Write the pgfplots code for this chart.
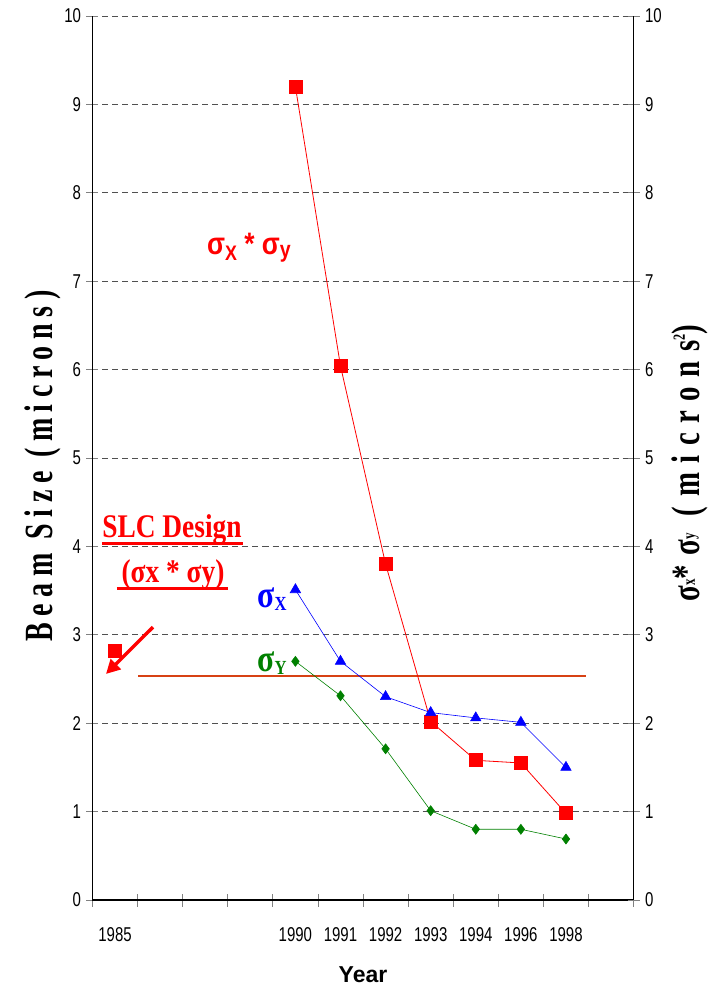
\documentclass[border=0pt]{standalone}
\usepackage{pgfplots}
\pgfplotsset{compat=1.18}
\usetikzlibrary{arrows.meta}
\usepackage{fontspec}
\setmainfont{Liberation Sans}
\newfontfamily\tickfont[FakeStretch=0.75]{Liberation Sans}
\newfontfamily\labfont[FakeStretch=0.7,LetterSpace=16.5]{Liberation Serif}
\newfontfamily\rlabfont[FakeStretch=0.72,LetterSpace=24]{Liberation Serif}
\newfontfamily\annfont[FakeStretch=0.83]{Liberation Serif}
\newfontfamily\sansann[FakeStretch=0.85]{Liberation Sans}
\definecolor{cred}{RGB}{255,0,0}
\definecolor{cblue}{RGB}{0,0,255}
\definecolor{cgreen}{RGB}{0,128,0}
\definecolor{slc}{RGB}{215,65,20}
\definecolor{gridc}{RGB}{80,80,80}
\begin{document}
\begin{tikzpicture}[x=1pt,y=1pt]
\useasboundingbox (-92.5,-91) rectangle (622.5,900);
\begin{axis}[at={(0,0)},anchor=south west, scale only axis,
  width=541.1pt, height=884pt,
  xmin=-0.5, xmax=11.5, ymin=0, ymax=10,
  axis x line*=bottom, axis y line*=left,
  axis line style={-, line width=1.1pt},
  clip=false,
  xtick={0,4,5,6,7,8,9,10},
  xticklabels={1985,1990,1991,1992,1993,1994,1996,1998},
  major x tick style={draw=none},
  minor xtick={-0.5,0.5,...,11.5},
  minor x tick style={line width=0.8pt},
  minor tick length=13pt,
  ytick={0,1,...,10},
  major tick length=12pt,
  tick align=center,
  y tick style={line width=0.8pt},
  ymajorgrids,
  grid style={gridc, dash pattern=on 6pt off 4pt, line width=0.8pt},
  /pgf/number format/assume math mode=true,
  xticklabel style={font=\tickfont\fontsize{20}{24}\selectfont, yshift=-18pt},
  yticklabel style={font=\tickfont\fontsize{20}{24}\selectfont, xshift=-2pt},
]
% SLC design level
\addplot[slc, line width=2pt, no markers] coordinates {(0.51,2.53) (10.44,2.53)};
% sigma x * sigma y
\addplot[cred, line width=0.8pt, mark=square*, mark size=6.5pt] coordinates {
  (4,9.20) (5,6.04) (6,3.80) (7,2.02) (8,1.58) (9,1.55) (10,0.98)};
\addplot[cred, only marks, mark=square*, mark size=6.5pt] coordinates {(0,2.82)};
% sigma x
\addplot[cblue, line width=0.6pt, mark=triangle*, mark size=6pt] coordinates {
  (4,3.51) (5,2.70) (6,2.30) (7,2.12) (8,2.06) (9,2.01) (10,1.50)};
% sigma y
\addplot[cgreen, line width=0.6pt, mark=diamond*, mark size=5pt] coordinates {
  (4,2.70) (5,2.31) (6,1.71) (7,1.01) (8,0.80) (9,0.80) (10,0.69)};
% annotations
\draw[cred, line width=3.5pt, -{Triangle[length=14pt,width=14pt]}] (axis cs:0.842,3.088) -- (axis cs:-0.2006,2.557);
\node[cred, anchor=base, font=\annfont\bfseries\fontsize{33}{33}\selectfont] at (axis cs:1.263,4.106) {SLC Design};
\draw[cred, line width=3.5pt] (axis cs:-0.29,4.033) -- (axis cs:2.84,4.033);
\node[cred, anchor=base, font=\annfont\bfseries\fontsize{33}{33}\selectfont] at (axis cs:1.285,3.586) {(σx * σy)};
\draw[cred, line width=3.5pt] (axis cs:0.043,3.524) -- (axis cs:2.505,3.524);
\node[cred, font=\sansann\bfseries\fontsize{31}{31}\selectfont] at (axis cs:2.97,7.38) {σ\raisebox{-6pt}{\fontsize{21}{21}\selectfont X} * σ\raisebox{-3pt}{\fontsize{23}{23}\selectfont y}};
\node[cblue, font=\annfont\bfseries\fontsize{38}{38}\selectfont] at (axis cs:3.48,3.40) {σ\raisebox{-3pt}{\fontsize{20}{20}\selectfont X}};
\node[cgreen, font=\annfont\bfseries\fontsize{38}{38}\selectfont] at (axis cs:3.48,2.68) {σ\raisebox{-3pt}{\fontsize{20}{20}\selectfont Y}};
% axis labels
\node[rotate=90, anchor=base, font=\labfont\bfseries\fontsize{40}{40}\selectfont] at (rel axis cs:-0.0748,0.491) {Beam Size (microns)};
\node[rotate=90, anchor=base, font=\rlabfont\bfseries\fontsize{40}{40}\selectfont] at (rel axis cs:1.1227,0.4943) {σ\raisebox{5pt}{\fontsize{18}{18}\selectfont x}*σ\raisebox{5pt}{\fontsize{18}{18}\selectfont y} (microns\raisebox{15pt}{\fontsize{17}{17}\selectfont 2})};
\node[font=\bfseries\fontsize{23}{23}\selectfont] at (rel axis cs:0.5,-0.0848) {Year};
\end{axis}
\begin{axis}[at={(0,0)},anchor=south west, scale only axis,
  width=541.1pt, height=884pt,
  xmin=-0.5, xmax=11.5, ymin=0, ymax=10,
  axis x line=none, axis y line*=right,
  axis line style={-, line width=1.1pt},
  ytick={0,1,...,10},
  major tick length=12pt,
  tick align=center,
  y tick style={line width=0.8pt},
  /pgf/number format/assume math mode=true,
  yticklabel style={font=\tickfont\fontsize{20}{24}\selectfont, xshift=2pt},
]
\end{axis}
\end{tikzpicture}
\end{document}
